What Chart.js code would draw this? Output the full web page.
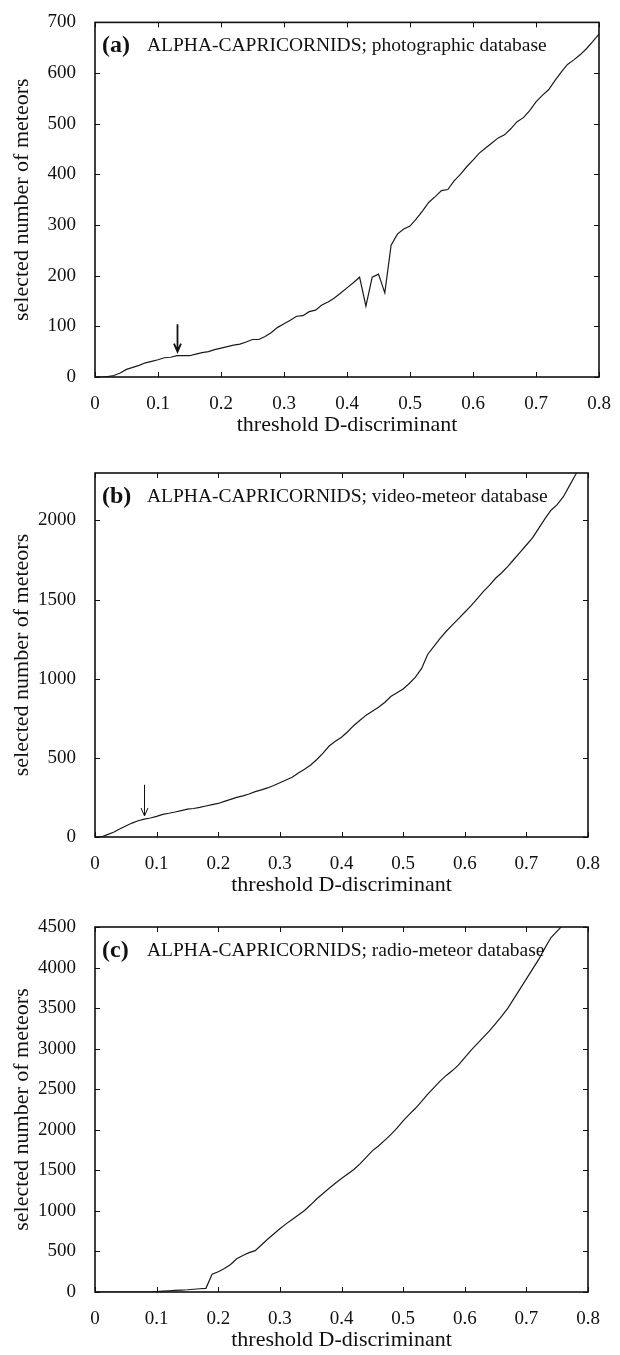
<!DOCTYPE html>
<html>
<head>
<meta charset="utf-8">
<script src="https://cdn.jsdelivr.net/npm/chart.js@4.4.0/dist/chart.umd.min.js"></script>
<style>
  body { margin: 0; background: #fff; width: 620px; height: 1355px; position: relative; overflow: hidden; }
  .panel { position: absolute; left: 0; width: 620px; }
</style>
</head>
<body>
<div class="panel" style="top:0;height:439px"><canvas id="photo"></canvas></div>
<div class="panel" style="top:440px;height:459px"><canvas id="video"></canvas></div>
<div class="panel" style="top:899px;height:455px"><canvas id="radio"></canvas></div>
<script>
// threshold D values (x)
const thresholds = [
  0.00, 0.01, 0.02, 0.03, 0.04, 0.05, 0.06, 0.07, 0.08, 0.09,
  0.10, 0.11, 0.12, 0.13, 0.14, 0.15, 0.16, 0.17, 0.18, 0.19,
  0.20, 0.21, 0.22, 0.23, 0.24, 0.25, 0.26, 0.27, 0.28, 0.29,
  0.30, 0.31, 0.32, 0.33, 0.34, 0.35, 0.36, 0.37, 0.38, 0.39,
  0.40, 0.41, 0.42, 0.43, 0.44, 0.45, 0.46, 0.47, 0.48, 0.49,
  0.50, 0.51, 0.52, 0.53, 0.54, 0.55, 0.56, 0.57, 0.58, 0.59,
  0.60, 0.61, 0.62, 0.63, 0.64, 0.65, 0.66, 0.67, 0.68, 0.69,
  0.70, 0.71, 0.72, 0.73, 0.74, 0.75, 0.76, 0.77, 0.78, 0.79, 0.80
];

// (a) photographic
const nPhoto = [
  0, 0, 1, 3, 8, 15, 19, 23, 28, 31,
  34, 38, 39, 42, 42, 42, 45, 48, 50, 54,
  57, 60, 63, 65, 69, 74, 74, 80, 88, 98,
  105, 112, 120, 121, 129, 132, 142, 148, 156, 166,
  176, 186, 197, 140, 197, 203, 166, 260, 282, 292,
  298, 312, 328, 345, 356, 368, 370, 387, 400, 415,
  428, 442, 452, 462, 472, 478, 490, 504, 512, 526,
  543, 556, 567, 585, 602, 617, 626, 636, 648, 662, 677
];

// (b) video
const nVideo = [
  0, 0, 15, 30, 50, 70, 88, 103, 113, 120,
  130, 143, 150, 158, 167, 176, 180, 187, 196, 205,
  212, 225, 238, 250, 260, 272, 287, 298, 310, 325,
  343, 360, 378, 405, 428, 455, 490, 530, 575, 605,
  630, 665, 705, 738, 770, 795, 820, 850, 888, 912,
  935, 970, 1010, 1065, 1155, 1205, 1255, 1300, 1340, 1380,
  1420, 1460, 1505, 1550, 1590, 1635, 1670, 1710, 1755, 1800,
  1845, 1890, 1950, 2010, 2065, 2100, 2150, 2220, 2290, 2370
];

// (c) radio
const nRadio = [
  0, 0, 0, 0, 0, 0, 0, 0, 0, 0,
  5, 10, 15, 19, 24, 28, 34, 40, 45, 220,
  250, 290, 340, 410, 450, 485, 510, 580, 650, 715,
  780, 840, 895, 950, 1005, 1075, 1150, 1215, 1280, 1340,
  1400, 1455, 1510, 1580, 1660, 1740, 1800, 1870, 1940, 2020,
  2110, 2190, 2265, 2350, 2440, 2520, 2600, 2670, 2730, 2800,
  2890, 2980, 3060, 3140, 3220, 3310, 3400, 3500, 3620, 3740,
  3860, 3980, 4100, 4240, 4370, 4450, 4530, 4660
];

const xTicks = [0, 0.1, 0.2, 0.3, 0.4, 0.5, 0.6, 0.7, 0.8];
const yTicksPhoto = [0, 100, 200, 300, 400, 500, 600, 700];
const yTicksVideo = [0, 500, 1000, 1500, 2000];
const yTicksRadio = [0, 500, 1000, 1500, 2000, 2500, 3000, 3500, 4000, 4500];

// arrows: [D, from, to]
const arrowPhoto = [0.13, 104, 50];
const arrowVideo = [0.08, 330, 133];

const serif = "'Liberation Serif', 'Times New Roman', serif";
const ink = '#111';

// box with inward ticks on all four sides, label text and arrow
const framePlugin = {
  id: 'frame',
  afterDatasetsDraw(chart, args, opts) {
    const { ctx, chartArea: a, scales: { x, y } } = chart;
    ctx.save();
    ctx.strokeStyle = ink;
    ctx.lineWidth = 1;
    const tl = 5;
    ctx.beginPath();
    x.ticks.forEach(t => {
      const px = Math.round(x.getPixelForValue(t.value)) + 0.5;
      ctx.moveTo(px, a.bottom); ctx.lineTo(px, a.bottom - tl);
      ctx.moveTo(px, a.top); ctx.lineTo(px, a.top + tl);
    });
    y.ticks.forEach(t => {
      const py = Math.round(y.getPixelForValue(t.value)) + 0.5;
      ctx.moveTo(a.left, py); ctx.lineTo(a.left + tl, py);
      ctx.moveTo(a.right, py); ctx.lineTo(a.right - tl, py);
    });
    ctx.stroke();
    ctx.lineWidth = 1.6;
    ctx.strokeRect(a.left, a.top, a.width, a.height);

    // panel label: bold letter, then the caption
    ctx.fillStyle = ink;
    ctx.textBaseline = 'alphabetic';
    const ty = a.top + 29;
    ctx.font = 'bold 24px ' + serif;
    ctx.fillText(opts.letter, a.left + 7, ty + 1);
    ctx.font = '19.5px ' + serif;
    ctx.fillText(opts.text, a.left + 52, ty);

    // arrow
    if (opts.arrow) {
      const [d, from, to] = opts.arrow;
      const px = Math.round(x.getPixelForValue(d)) + 0.5;
      const y0 = y.getPixelForValue(from), y1 = y.getPixelForValue(to);
      ctx.lineWidth = opts.arrowWidth;
      ctx.beginPath();
      ctx.moveTo(px, y0); ctx.lineTo(px, y1);
      ctx.moveTo(px - 3.5, y1 - 8); ctx.lineTo(px, y1); ctx.lineTo(px + 3.5, y1 - 8);
      ctx.stroke();
    }
    ctx.restore();
  }
};

function makeChart(id, counts, yMax, yTicks, padTop, padRight, letter, text, arrow, arrowWidth) {
  const points = counts.map((v, i) => ({ x: thresholds[i], y: v }));
  return new Chart(document.getElementById(id), {
    type: 'line',
    data: {
      datasets: [{
        data: points,
        borderColor: '#1a1a1a',
        borderWidth: 1.2,
        pointRadius: 0,
        tension: 0,
        fill: false
      }]
    },
    options: {
      responsive: true,
      maintainAspectRatio: false,
      animation: false,
      layout: { padding: { top: padTop, right: padRight, left: 0, bottom: 0 } },
      plugins: {
        legend: { display: false },
        tooltip: { enabled: false },
        frame: { letter: letter, text: text, arrow: arrow, arrowWidth: arrowWidth }
      },
      scales: {
        x: {
          type: 'linear',
          min: 0,
          max: 0.8,
          afterBuildTicks: s => { s.ticks = xTicks.map(v => ({ value: v })); },
          afterFit: s => { s.height = 62; },
          grid: { display: false },
          border: { display: false },
          ticks: {
            color: ink,
            font: { family: serif, size: 19 },
            padding: 8,
            maxRotation: 0,
            autoSkip: false,
            callback: v => (v === 0 ? '0' : v.toFixed(1))
          },
          title: {
            display: true,
            text: 'threshold D-discriminant',
            color: ink,
            font: { family: serif, size: 22 },
            padding: { top: 0, bottom: 1 }
          }
        },
        y: {
          type: 'linear',
          min: 0,
          max: yMax,
          afterBuildTicks: s => { s.ticks = yTicks.map(v => ({ value: v })); },
          afterFit: s => { s.width = 95; },
          grid: { display: false },
          border: { display: false },
          ticks: {
            color: ink,
            font: { family: serif, size: 19 },
            padding: 11,
            callback: v => String(v)
          },
          title: {
            display: true,
            text: 'selected number of meteors',
            color: ink,
            font: { family: serif, size: 22 },
            padding: { top: 9, bottom: 0 }
          }
        }
      }
    },
    plugins: [framePlugin]
  });
}

makeChart('photo', nPhoto, 700, yTicksPhoto, 13, 21, '(a)',
  'ALPHA-CAPRICORNIDS; photographic database', arrowPhoto, 1.8);
makeChart('video', nVideo, 2300, yTicksVideo, 33, 32, '(b)',
  'ALPHA-CAPRICORNIDS; video-meteor database', arrowVideo, 1);
makeChart('radio', nRadio, 4500, yTicksRadio, 28, 32, '(c)',
  'ALPHA-CAPRICORNIDS; radio-meteor database', null, 1);
</script>
</body>
</html>
